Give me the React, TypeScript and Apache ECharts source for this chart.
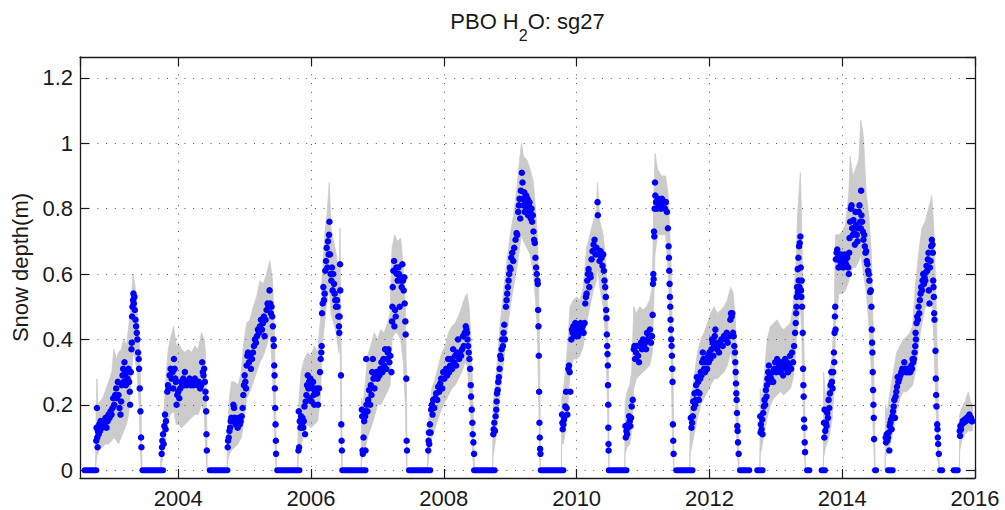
import React, { useEffect, useRef } from 'react';
import * as echarts from 'echarts';

// ---------- Data (decimal year, snow depth in m) ----------
const SEASON_A: number[][] = [[2002.765,0.09],[2002.77,0.13],[2002.775,0.19],[2002.78,0.10],[2002.785,0.07],[2002.79,0.12],[2002.80,0.11],[2002.81,0.14],[2002.82,0.12],[2002.83,0.15],[2002.845,0.14],[2002.86,0.13],[2002.875,0.15],[2002.89,0.14],[2002.905,0.16],[2002.92,0.13],[2002.935,0.15],[2002.95,0.17],[2002.965,0.16],[2002.98,0.18],[2002.995,0.17],[2003.01,0.19],[2003.02,0.22],[2003.035,0.20],[2003.05,0.23],[2003.065,0.25],[2003.075,0.22],[2003.09,0.27],[2003.10,0.23],[2003.115,0.19],[2003.13,0.17],[2003.14,0.21],[2003.15,0.26],[2003.16,0.29],[2003.17,0.31],[2003.18,0.27],[2003.19,0.33],[2003.20,0.29],[2003.21,0.26],[2003.22,0.30],[2003.235,0.28],[2003.25,0.31],[2003.26,0.27],[2003.27,0.24],[2003.275,0.20],[2003.285,0.30],[2003.295,0.37],[2003.30,0.39],[2003.305,0.47],[2003.31,0.50],[2003.32,0.52],[2003.325,0.54],[2003.33,0.51],[2003.34,0.53],[2003.345,0.49],[2003.355,0.46],[2003.365,0.44],[2003.375,0.42],[2003.385,0.40],[2003.395,0.36],[2003.405,0.34],[2003.41,0.31],[2003.42,0.25],[2003.43,0.18],[2003.44,0.10],[2003.445,0.07]];
const SEASON_B: number[][] = [[2003.75,0.05],[2003.755,0.07],[2003.76,0.09],[2003.77,0.11],[2003.78,0.08],[2003.79,0.135],[2003.80,0.17],[2003.81,0.125],[2003.815,0.15],[2003.835,0.24],[2003.845,0.26],[2003.855,0.25],[2003.87,0.29],[2003.885,0.31],[2003.90,0.28],[2003.915,0.30],[2003.925,0.25],[2003.935,0.34],[2003.945,0.31],[2003.955,0.28],[2003.965,0.27],[2003.975,0.20],[2003.985,0.23],[2004.00,0.24],[2004.015,0.22],[2004.03,0.25],[2004.045,0.27],[2004.06,0.26],[2004.075,0.28],[2004.09,0.26],[2004.10,0.30],[2004.115,0.27],[2004.13,0.26],[2004.15,0.27],[2004.17,0.28],[2004.19,0.26],[2004.21,0.27],[2004.23,0.26],[2004.25,0.28],[2004.27,0.27],[2004.29,0.26],[2004.31,0.27],[2004.33,0.25],[2004.345,0.26],[2004.36,0.33],[2004.37,0.30],[2004.38,0.29],[2004.39,0.31],[2004.40,0.27],[2004.41,0.24],[2004.415,0.22],[2004.42,0.18],[2004.425,0.11],[2004.43,0.06]];
const SEASON_C: number[][] = [[2004.745,0.07],[2004.75,0.09],[2004.76,0.10],[2004.77,0.12],[2004.78,0.13],[2004.79,0.15],[2004.80,0.16],[2004.815,0.15],[2004.83,0.20],[2004.84,0.19],[2004.85,0.16],[2004.865,0.14],[2004.88,0.15],[2004.895,0.13],[2004.91,0.16],[2004.925,0.14],[2004.94,0.15],[2004.955,0.165],[2004.97,0.19],[2004.98,0.23],[2004.99,0.26],[2005.00,0.29],[2005.01,0.27],[2005.02,0.25],[2005.03,0.32],[2005.04,0.35],[2005.05,0.36],[2005.065,0.33],[2005.08,0.35],[2005.095,0.31],[2005.11,0.34],[2005.125,0.36],[2005.14,0.38],[2005.155,0.40],[2005.17,0.39],[2005.185,0.41],[2005.20,0.43],[2005.215,0.42],[2005.23,0.44],[2005.245,0.46],[2005.26,0.43],[2005.275,0.45],[2005.29,0.47],[2005.30,0.41],[2005.315,0.46],[2005.33,0.49],[2005.345,0.51],[2005.36,0.50],[2005.375,0.55],[2005.385,0.51],[2005.395,0.48],[2005.405,0.50],[2005.415,0.47],[2005.425,0.44],[2005.435,0.40],[2005.44,0.38],[2005.445,0.32],[2005.45,0.29],[2005.455,0.25],[2005.46,0.19],[2005.465,0.14],[2005.47,0.09],[2005.473,0.05]];
const SEASON_D: number[][] = [[2005.81,0.06],[2005.815,0.18],[2005.82,0.07],[2005.83,0.15],[2005.84,0.13],[2005.85,0.165],[2005.86,0.14],[2005.87,0.16],[2005.88,0.13],[2005.89,0.15],[2005.90,0.195],[2005.91,0.11],[2005.92,0.21],[2005.93,0.23],[2005.94,0.26],[2005.95,0.29],[2005.96,0.25],[2005.97,0.27],[2005.98,0.22],[2005.99,0.28],[2006.00,0.26],[2006.01,0.21],[2006.02,0.25],[2006.03,0.27],[2006.04,0.23],[2006.05,0.20],[2006.06,0.24],[2006.075,0.25],[2006.09,0.235],[2006.105,0.20],[2006.12,0.25],[2006.135,0.30],[2006.145,0.34],[2006.155,0.36],[2006.16,0.38],[2006.165,0.48],[2006.175,0.51],[2006.185,0.56],[2006.195,0.52],[2006.205,0.54],[2006.215,0.61],[2006.225,0.64],[2006.235,0.68],[2006.245,0.62],[2006.255,0.70],[2006.265,0.66],[2006.27,0.72],[2006.277,0.76],[2006.285,0.66],[2006.295,0.60],[2006.305,0.58],[2006.315,0.62],[2006.325,0.55],[2006.335,0.60],[2006.345,0.57],[2006.355,0.54],[2006.365,0.52],[2006.375,0.50],[2006.39,0.52],[2006.40,0.50],[2006.41,0.47],[2006.42,0.44],[2006.425,0.42],[2006.43,0.47],[2006.437,0.63],[2006.44,0.55],[2006.45,0.29],[2006.455,0.14],[2006.46,0.09],[2006.465,0.06]];
const SEASON_E: number[][] = [[2006.765,0.185],[2006.77,0.165],[2006.775,0.06],[2006.78,0.05],[2006.79,0.10],[2006.80,0.15],[2006.81,0.18],[2006.815,0.165],[2006.82,0.06],[2006.83,0.34],[2006.835,0.20],[2006.85,0.18],[2006.86,0.215],[2006.875,0.245],[2006.89,0.20],[2006.90,0.26],[2006.91,0.23],[2006.92,0.30],[2006.93,0.34],[2006.94,0.28],[2006.955,0.25],[2006.97,0.29],[2006.985,0.30],[2007.00,0.28],[2007.015,0.30],[2007.03,0.29],[2007.045,0.31],[2007.06,0.33],[2007.075,0.30],[2007.09,0.34],[2007.10,0.32],[2007.115,0.37],[2007.13,0.31],[2007.14,0.34],[2007.155,0.36],[2007.165,0.37],[2007.18,0.33],[2007.195,0.35],[2007.21,0.30],[2007.22,0.455],[2007.225,0.50],[2007.23,0.56],[2007.24,0.61],[2007.25,0.64],[2007.255,0.44],[2007.265,0.49],[2007.275,0.47],[2007.285,0.62],[2007.295,0.60],[2007.305,0.58],[2007.315,0.62],[2007.325,0.60],[2007.335,0.50],[2007.345,0.59],[2007.355,0.58],[2007.365,0.56],[2007.375,0.63],[2007.385,0.58],[2007.395,0.55],[2007.405,0.59],[2007.41,0.51],[2007.42,0.455],[2007.425,0.415],[2007.435,0.28],[2007.44,0.09],[2007.445,0.06]];
const SEASON_F: number[][] = [[2007.765,0.06],[2007.77,0.09],[2007.775,0.115],[2007.78,0.08],[2007.79,0.14],[2007.80,0.115],[2007.81,0.185],[2007.82,0.20],[2007.83,0.17],[2007.84,0.215],[2007.855,0.19],[2007.87,0.22],[2007.885,0.235],[2007.90,0.215],[2007.915,0.255],[2007.93,0.24],[2007.945,0.265],[2007.96,0.28],[2007.975,0.25],[2007.99,0.30],[2008.005,0.28],[2008.02,0.30],[2008.035,0.31],[2008.05,0.29],[2008.065,0.34],[2008.08,0.30],[2008.095,0.32],[2008.11,0.34],[2008.125,0.31],[2008.14,0.37],[2008.155,0.33],[2008.17,0.35],[2008.185,0.32],[2008.20,0.36],[2008.215,0.40],[2008.23,0.34],[2008.245,0.36],[2008.26,0.35],[2008.275,0.37],[2008.29,0.41],[2008.30,0.38],[2008.315,0.42],[2008.33,0.44],[2008.34,0.43],[2008.35,0.42],[2008.355,0.40],[2008.365,0.38],[2008.375,0.36],[2008.385,0.34],[2008.395,0.31],[2008.405,0.26],[2008.41,0.225],[2008.42,0.185],[2008.43,0.145],[2008.435,0.11],[2008.445,0.085],[2008.455,0.05]];
const SEASON_G: number[][] = [[2008.745,0.11],[2008.75,0.125],[2008.76,0.145],[2008.77,0.12],[2008.78,0.165],[2008.79,0.185],[2008.795,0.21],[2008.80,0.235],[2008.81,0.245],[2008.82,0.27],[2008.83,0.285],[2008.84,0.31],[2008.85,0.35],[2008.86,0.34],[2008.87,0.37],[2008.88,0.40],[2008.89,0.38],[2008.90,0.42],[2008.91,0.445],[2008.92,0.40],[2008.935,0.50],[2008.945,0.52],[2008.955,0.54],[2008.965,0.56],[2008.975,0.58],[2008.985,0.60],[2008.995,0.62],[2009.005,0.615],[2009.015,0.65],[2009.03,0.665],[2009.045,0.64],[2009.06,0.68],[2009.08,0.705],[2009.095,0.725],[2009.105,0.72],[2009.12,0.79],[2009.13,0.81],[2009.14,0.83],[2009.15,0.77],[2009.16,0.855],[2009.175,0.91],[2009.185,0.88],[2009.19,0.83],[2009.20,0.81],[2009.21,0.85],[2009.22,0.79],[2009.23,0.82],[2009.24,0.84],[2009.25,0.80],[2009.26,0.83],[2009.27,0.78],[2009.28,0.81],[2009.29,0.82],[2009.30,0.79],[2009.31,0.77],[2009.32,0.80],[2009.33,0.76],[2009.34,0.78],[2009.35,0.73],[2009.36,0.705],[2009.37,0.695],[2009.38,0.65],[2009.39,0.62],[2009.40,0.60],[2009.41,0.58],[2009.415,0.57],[2009.42,0.49],[2009.425,0.44],[2009.43,0.35],[2009.435,0.24],[2009.44,0.145],[2009.445,0.10],[2009.45,0.065],[2009.455,0.05]];
const SEASON_H: number[][] = [[2009.78,0.17],[2009.785,0.145],[2009.79,0.125],[2009.80,0.14],[2009.81,0.155],[2009.82,0.165],[2009.83,0.195],[2009.84,0.24],[2009.85,0.19],[2009.86,0.17],[2009.875,0.31],[2009.885,0.32],[2009.895,0.30],[2009.905,0.24],[2009.92,0.40],[2009.93,0.43],[2009.94,0.42],[2009.95,0.44],[2009.96,0.41],[2009.97,0.43],[2009.98,0.45],[2009.99,0.42],[2010.00,0.44],[2010.01,0.43],[2010.02,0.41],[2010.03,0.44],[2010.045,0.42],[2010.06,0.45],[2010.075,0.43],[2010.09,0.44],[2010.105,0.42],[2010.12,0.45],[2010.13,0.51],[2010.14,0.53],[2010.15,0.54],[2010.16,0.58],[2010.17,0.60],[2010.18,0.615],[2010.19,0.56],[2010.20,0.60],[2010.21,0.59],[2010.225,0.645],[2010.24,0.67],[2010.255,0.69],[2010.27,0.705],[2010.285,0.66],[2010.30,0.68],[2010.315,0.82],[2010.32,0.78],[2010.33,0.66],[2010.345,0.64],[2010.36,0.67],[2010.375,0.65],[2010.39,0.625],[2010.40,0.66],[2010.41,0.61],[2010.42,0.58],[2010.43,0.56],[2010.44,0.53],[2010.445,0.49],[2010.45,0.465],[2010.455,0.415],[2010.46,0.38],[2010.465,0.355],[2010.47,0.32],[2010.472,0.26],[2010.475,0.20],[2010.477,0.13],[2010.48,0.08],[2010.482,0.06]];
const SEASON_I: number[][] = [[2010.735,0.135],[2010.74,0.10],[2010.75,0.12],[2010.76,0.11],[2010.77,0.13],[2010.78,0.14],[2010.79,0.165],[2010.80,0.15],[2010.81,0.135],[2010.82,0.16],[2010.83,0.195],[2010.845,0.215],[2010.86,0.37],[2010.87,0.38],[2010.88,0.34],[2010.895,0.36],[2010.91,0.38],[2010.925,0.35],[2010.94,0.33],[2010.955,0.38],[2010.97,0.39],[2010.985,0.37],[2011.00,0.40],[2011.015,0.38],[2011.03,0.39],[2011.045,0.37],[2011.06,0.42],[2011.075,0.40],[2011.09,0.41],[2011.105,0.43],[2011.12,0.39],[2011.135,0.41],[2011.145,0.475],[2011.15,0.57],[2011.155,0.60],[2011.16,0.585],[2011.165,0.73],[2011.17,0.715],[2011.175,0.80],[2011.18,0.88],[2011.185,0.84],[2011.195,0.82],[2011.21,0.80],[2011.225,0.83],[2011.24,0.81],[2011.255,0.82],[2011.27,0.80],[2011.285,0.83],[2011.30,0.81],[2011.315,0.82],[2011.33,0.80],[2011.345,0.82],[2011.36,0.79],[2011.375,0.74],[2011.385,0.685],[2011.39,0.65],[2011.395,0.61],[2011.40,0.57],[2011.405,0.53],[2011.41,0.50],[2011.415,0.46],[2011.42,0.43],[2011.425,0.40],[2011.43,0.38],[2011.435,0.35],[2011.44,0.31],[2011.445,0.27],[2011.45,0.14],[2011.455,0.09],[2011.46,0.05]];
const SEASON_J: number[][] = [[2011.72,0.16],[2011.73,0.13],[2011.74,0.145],[2011.75,0.165],[2011.755,0.21],[2011.765,0.19],[2011.775,0.235],[2011.785,0.20],[2011.795,0.215],[2011.80,0.26],[2011.81,0.285],[2011.82,0.24],[2011.83,0.27],[2011.84,0.215],[2011.85,0.235],[2011.86,0.28],[2011.87,0.30],[2011.88,0.29],[2011.89,0.33],[2011.90,0.36],[2011.91,0.34],[2011.92,0.31],[2011.935,0.30],[2011.95,0.33],[2011.965,0.31],[2011.98,0.35],[2011.99,0.33],[2012.00,0.36],[2012.015,0.34],[2012.03,0.37],[2012.04,0.40],[2012.05,0.39],[2012.06,0.35],[2012.07,0.38],[2012.08,0.41],[2012.09,0.43],[2012.10,0.39],[2012.115,0.37],[2012.13,0.38],[2012.145,0.36],[2012.16,0.39],[2012.18,0.40],[2012.20,0.38],[2012.22,0.41],[2012.24,0.40],[2012.26,0.42],[2012.275,0.39],[2012.29,0.41],[2012.30,0.41],[2012.315,0.46],[2012.325,0.48],[2012.335,0.47],[2012.345,0.48],[2012.355,0.42],[2012.365,0.41],[2012.375,0.38],[2012.385,0.36],[2012.39,0.33],[2012.395,0.30],[2012.40,0.265],[2012.405,0.235],[2012.41,0.215],[2012.415,0.175],[2012.42,0.135],[2012.425,0.12],[2012.43,0.085],[2012.44,0.05]];
const SEASON_K: number[][] = [[2012.765,0.165],[2012.77,0.115],[2012.775,0.14],[2012.785,0.125],[2012.795,0.155],[2012.80,0.11],[2012.81,0.175],[2012.82,0.195],[2012.83,0.215],[2012.84,0.20],[2012.85,0.245],[2012.86,0.225],[2012.865,0.26],[2012.875,0.28],[2012.885,0.30],[2012.895,0.32],[2012.905,0.27],[2012.915,0.29],[2012.93,0.28],[2012.945,0.30],[2012.96,0.27],[2012.975,0.31],[2012.99,0.33],[2013.005,0.30],[2013.02,0.34],[2013.035,0.31],[2013.05,0.32],[2013.065,0.30],[2013.08,0.33],[2013.095,0.31],[2013.11,0.29],[2013.125,0.32],[2013.14,0.34],[2013.155,0.31],[2013.17,0.33],[2013.185,0.30],[2013.20,0.32],[2013.215,0.35],[2013.23,0.31],[2013.245,0.36],[2013.26,0.33],[2013.275,0.38],[2013.29,0.42],[2013.30,0.45],[2013.305,0.48],[2013.31,0.50],[2013.315,0.53],[2013.32,0.56],[2013.33,0.615],[2013.335,0.545],[2013.34,0.65],[2013.345,0.58],[2013.35,0.685],[2013.355,0.56],[2013.36,0.695],[2013.37,0.715],[2013.375,0.62],[2013.38,0.55],[2013.385,0.53],[2013.39,0.58],[2013.395,0.50],[2013.405,0.42],[2013.41,0.31],[2013.415,0.26],[2013.42,0.225],[2013.425,0.155],[2013.43,0.13],[2013.435,0.085],[2013.44,0.055]];
const SEASON_L: number[][] = [[2013.725,0.145],[2013.73,0.10],[2013.735,0.185],[2013.745,0.12],[2013.755,0.145],[2013.765,0.135],[2013.775,0.175],[2013.785,0.16],[2013.795,0.215],[2013.805,0.19],[2013.815,0.235],[2013.825,0.26],[2013.835,0.30],[2013.845,0.27],[2013.855,0.25],[2013.865,0.30],[2013.875,0.36],[2013.88,0.33],[2013.885,0.42],[2013.89,0.47],[2013.895,0.50],[2013.90,0.43],[2013.905,0.645],[2013.915,0.665],[2013.925,0.675],[2013.935,0.65],[2013.945,0.62],[2013.955,0.655],[2013.965,0.64],[2013.975,0.66],[2013.985,0.63],[2013.995,0.645],[2014.005,0.65],[2014.015,0.62],[2014.025,0.645],[2014.035,0.66],[2014.045,0.64],[2014.06,0.63],[2014.075,0.65],[2014.09,0.62],[2014.10,0.60],[2014.105,0.665],[2014.11,0.71],[2014.12,0.76],[2014.13,0.80],[2014.14,0.81],[2014.15,0.74],[2014.16,0.72],[2014.17,0.765],[2014.18,0.725],[2014.19,0.69],[2014.20,0.79],[2014.21,0.75],[2014.22,0.72],[2014.23,0.70],[2014.24,0.74],[2014.25,0.79],[2014.26,0.81],[2014.27,0.76],[2014.28,0.74],[2014.285,0.855],[2014.29,0.78],[2014.30,0.76],[2014.31,0.73],[2014.32,0.705],[2014.33,0.72],[2014.34,0.685],[2014.35,0.665],[2014.36,0.67],[2014.37,0.64],[2014.38,0.63],[2014.39,0.61],[2014.40,0.60],[2014.41,0.58],[2014.42,0.545],[2014.43,0.55],[2014.44,0.50],[2014.445,0.43],[2014.45,0.39],[2014.455,0.36],[2014.46,0.30],[2014.465,0.245],[2014.47,0.20],[2014.475,0.16],[2014.48,0.095]];
const SEASON_M: number[][] = [[2014.655,0.10],[2014.66,0.085],[2014.67,0.11],[2014.68,0.09],[2014.69,0.10],[2014.70,0.115],[2014.71,0.06],[2014.715,0.135],[2014.725,0.145],[2014.735,0.155],[2014.745,0.125],[2014.755,0.165],[2014.765,0.18],[2014.775,0.195],[2014.785,0.215],[2014.795,0.16],[2014.805,0.225],[2014.815,0.24],[2014.825,0.255],[2014.835,0.285],[2014.845,0.27],[2014.86,0.28],[2014.875,0.29],[2014.89,0.30],[2014.905,0.31],[2014.92,0.30],[2014.935,0.33],[2014.95,0.31],[2014.965,0.30],[2014.98,0.31],[2014.995,0.30],[2015.01,0.31],[2015.025,0.30],[2015.04,0.32],[2015.05,0.31],[2015.06,0.34],[2015.07,0.33],[2015.08,0.34],[2015.09,0.36],[2015.10,0.38],[2015.105,0.42],[2015.11,0.40],[2015.12,0.45],[2015.13,0.47],[2015.14,0.46],[2015.15,0.50],[2015.16,0.48],[2015.17,0.52],[2015.18,0.54],[2015.19,0.56],[2015.20,0.55],[2015.21,0.58],[2015.22,0.60],[2015.23,0.57],[2015.24,0.59],[2015.25,0.58],[2015.26,0.605],[2015.27,0.625],[2015.28,0.61],[2015.29,0.645],[2015.30,0.665],[2015.305,0.55],[2015.315,0.51],[2015.32,0.62],[2015.33,0.64],[2015.34,0.685],[2015.35,0.705],[2015.36,0.69],[2015.365,0.665],[2015.37,0.58],[2015.375,0.56],[2015.38,0.53],[2015.385,0.48],[2015.39,0.46],[2015.405,0.365],[2015.41,0.28],[2015.415,0.23],[2015.42,0.195],[2015.43,0.14],[2015.435,0.125],[2015.44,0.10],[2015.445,0.08],[2015.455,0.05]];
const SEASON_N: number[][] = [[2015.77,0.12],[2015.775,0.105],[2015.78,0.135],[2015.79,0.125],[2015.80,0.14],[2015.815,0.15],[2015.83,0.145],[2015.845,0.155],[2015.86,0.15],[2015.875,0.16],[2015.89,0.155],[2015.905,0.165],[2015.915,0.17],[2015.925,0.155],[2015.94,0.16],[2015.95,0.15],[2015.96,0.15]];

// grey uncertainty envelope per season: [year, low, high]
const BAND_A: number[][] = [[2002.755,0,0.02],[2002.765,0.03,0.2],[2002.775,0.05,0.28],[2002.79,0.05,0.2],[2002.82,0.07,0.21],[2002.86,0.07,0.22],[2002.9,0.08,0.24],[2002.95,0.08,0.27],[2003.0,0.09,0.3],[2003.03,0.1,0.37],[2003.07,0.09,0.34],[2003.1,0.08,0.36],[2003.14,0.1,0.37],[2003.18,0.12,0.4],[2003.22,0.14,0.38],[2003.26,0.18,0.45],[2003.29,0.28,0.52],[2003.32,0.36,0.6],[2003.35,0.34,0.56],[2003.38,0.3,0.5],[2003.41,0.2,0.42],[2003.43,0.06,0.3],[2003.445,0,0.1],[2003.455,0,0.02]];
const BAND_B: number[][] = [[2003.735,0,0.02],[2003.745,0.02,0.08],[2003.76,0.03,0.12],[2003.79,0.07,0.2],[2003.82,0.12,0.3],[2003.85,0.15,0.37],[2003.88,0.17,0.4],[2003.93,0.18,0.44],[2003.97,0.14,0.38],[2004.0,0.14,0.39],[2004.05,0.13,0.37],[2004.1,0.14,0.36],[2004.15,0.15,0.37],[2004.2,0.16,0.36],[2004.25,0.17,0.38],[2004.3,0.17,0.37],[2004.35,0.2,0.42],[2004.39,0.18,0.4],[2004.41,0.08,0.36],[2004.425,0.02,0.2],[2004.435,0,0.05]];
const BAND_C: number[][] = [[2004.735,0,0.03],[2004.745,0.03,0.12],[2004.77,0.05,0.22],[2004.8,0.06,0.27],[2004.85,0.07,0.27],[2004.9,0.08,0.26],[2004.95,0.1,0.3],[2004.98,0.14,0.38],[2005.03,0.22,0.45],[2005.08,0.24,0.46],[2005.13,0.27,0.5],[2005.18,0.3,0.53],[2005.23,0.33,0.58],[2005.28,0.35,0.57],[2005.33,0.38,0.6],[2005.38,0.42,0.64],[2005.42,0.3,0.58],[2005.445,0.15,0.45],[2005.46,0.05,0.3],[2005.475,0,0.08],[2005.48,0,0.02]];
const BAND_D: number[][] = [[2005.80,0,0.02],[2005.805,0.03,0.14],[2005.82,0.06,0.22],[2005.85,0.08,0.3],[2005.9,0.11,0.34],[2005.95,0.14,0.36],[2006.0,0.13,0.35],[2006.05,0.14,0.38],[2006.1,0.15,0.36],[2006.14,0.22,0.46],[2006.17,0.38,0.6],[2006.21,0.46,0.73],[2006.24,0.52,0.78],[2006.275,0.56,0.88],[2006.3,0.48,0.74],[2006.34,0.45,0.7],[2006.38,0.42,0.66],[2006.42,0.36,0.6],[2006.437,0.4,0.74],[2006.45,0.1,0.45],[2006.465,0,0.12],[2006.47,0,0.02]];
const BAND_E: number[][] = [[2006.755,0,0.02],[2006.76,0.03,0.22],[2006.78,0.04,0.2],[2006.81,0.06,0.25],[2006.85,0.1,0.35],[2006.9,0.13,0.38],[2006.95,0.16,0.42],[2007.0,0.2,0.4],[2007.05,0.2,0.43],[2007.1,0.22,0.42],[2007.15,0.24,0.45],[2007.19,0.26,0.48],[2007.22,0.4,0.68],[2007.26,0.42,0.72],[2007.3,0.42,0.7],[2007.35,0.4,0.71],[2007.39,0.33,0.62],[2007.42,0.2,0.5],[2007.435,0.03,0.3],[2007.445,0,0.05]];
const BAND_F: number[][] = [[2007.755,0,0.02],[2007.76,0.02,0.12],[2007.78,0.05,0.17],[2007.82,0.1,0.25],[2007.87,0.13,0.28],[2007.92,0.16,0.32],[2007.97,0.19,0.36],[2008.02,0.21,0.38],[2008.07,0.23,0.42],[2008.12,0.25,0.44],[2008.17,0.26,0.45],[2008.22,0.28,0.47],[2008.27,0.3,0.5],[2008.32,0.33,0.53],[2008.35,0.32,0.54],[2008.38,0.25,0.5],[2008.41,0.15,0.4],[2008.44,0.03,0.2],[2008.455,0,0.05],[2008.46,0,0.02]];
const BAND_G: number[][] = [[2008.735,0,0.02],[2008.74,0.04,0.2],[2008.77,0.08,0.25],[2008.8,0.14,0.32],[2008.85,0.24,0.45],[2008.9,0.33,0.55],[2008.95,0.42,0.64],[2009.0,0.5,0.72],[2009.05,0.56,0.78],[2009.1,0.62,0.86],[2009.14,0.68,0.95],[2009.17,0.72,1.0],[2009.2,0.7,0.96],[2009.25,0.68,0.95],[2009.3,0.66,0.92],[2009.35,0.6,0.88],[2009.38,0.52,0.8],[2009.41,0.42,0.72],[2009.43,0.2,0.55],[2009.445,0.03,0.3],[2009.455,0,0.05]];
const BAND_H: number[][] = [[2009.77,0,0.02],[2009.775,0.08,0.22],[2009.8,0.08,0.24],[2009.83,0.12,0.3],[2009.87,0.2,0.4],[2009.9,0.3,0.5],[2009.95,0.34,0.52],[2010.0,0.34,0.53],[2010.05,0.35,0.52],[2010.1,0.38,0.56],[2010.15,0.45,0.68],[2010.2,0.5,0.72],[2010.25,0.55,0.76],[2010.3,0.58,0.8],[2010.315,0.62,0.88],[2010.35,0.56,0.76],[2010.4,0.5,0.72],[2010.44,0.4,0.64],[2010.465,0.2,0.5],[2010.48,0.02,0.3],[2010.49,0,0.05]];
const BAND_I: number[][] = [[2010.725,0,0.02],[2010.73,0.05,0.2],[2010.76,0.07,0.24],[2010.8,0.08,0.26],[2010.83,0.12,0.3],[2010.86,0.25,0.5],[2010.9,0.28,0.48],[2010.95,0.29,0.5],[2011.0,0.3,0.49],[2011.05,0.31,0.5],[2011.1,0.32,0.52],[2011.14,0.36,0.56],[2011.16,0.5,0.8],[2011.18,0.66,0.97],[2011.22,0.72,0.92],[2011.28,0.72,0.9],[2011.34,0.72,0.9],[2011.38,0.6,0.84],[2011.42,0.35,0.65],[2011.45,0.05,0.35],[2011.465,0,0.05]];
const BAND_J: number[][] = [[2011.705,0,0.02],[2011.71,0.05,0.22],[2011.74,0.08,0.24],[2011.78,0.12,0.3],[2011.82,0.16,0.36],[2011.87,0.2,0.4],[2011.92,0.22,0.42],[2011.97,0.24,0.45],[2012.02,0.26,0.48],[2012.07,0.28,0.5],[2012.12,0.28,0.48],[2012.17,0.29,0.49],[2012.22,0.3,0.5],[2012.27,0.32,0.52],[2012.32,0.36,0.56],[2012.36,0.32,0.54],[2012.39,0.2,0.46],[2012.42,0.06,0.3],[2012.44,0,0.1],[2012.445,0,0.02]];
const BAND_K: number[][] = [[2012.76,0,0.02],[2012.765,0.05,0.25],[2012.79,0.07,0.22],[2012.83,0.12,0.3],[2012.87,0.16,0.4],[2012.92,0.2,0.44],[2012.97,0.22,0.45],[2013.02,0.23,0.46],[2013.07,0.24,0.44],[2013.12,0.23,0.43],[2013.17,0.24,0.44],[2013.22,0.25,0.45],[2013.26,0.28,0.5],[2013.3,0.36,0.62],[2013.33,0.45,0.79],[2013.37,0.5,0.91],[2013.39,0.42,0.75],[2013.41,0.22,0.55],[2013.43,0.05,0.3],[2013.445,0,0.05]];
const BAND_L: number[][] = [[2013.715,0,0.02],[2013.72,0.04,0.3],[2013.75,0.07,0.22],[2013.8,0.1,0.28],[2013.85,0.16,0.35],[2013.88,0.25,0.5],[2013.9,0.45,0.72],[2013.95,0.54,0.72],[2014.0,0.54,0.73],[2014.05,0.55,0.75],[2014.1,0.58,0.85],[2014.12,0.6,0.96],[2014.16,0.62,0.9],[2014.2,0.62,0.92],[2014.25,0.64,0.95],[2014.28,0.66,1.07],[2014.32,0.6,1.02],[2014.36,0.55,0.85],[2014.4,0.45,0.78],[2014.44,0.3,0.66],[2014.47,0.1,0.4],[2014.49,0,0.12],[2014.495,0,0.02]];
const BAND_M: number[][] = [[2014.645,0,0.02],[2014.65,0.04,0.2],[2014.68,0.05,0.18],[2014.72,0.08,0.24],[2014.77,0.12,0.3],[2014.82,0.18,0.36],[2014.87,0.22,0.38],[2014.92,0.24,0.4],[2014.97,0.24,0.41],[2015.02,0.25,0.42],[2015.06,0.26,0.44],[2015.1,0.3,0.56],[2015.15,0.38,0.66],[2015.2,0.45,0.74],[2015.25,0.5,0.76],[2015.3,0.5,0.8],[2015.35,0.52,0.84],[2015.38,0.4,0.74],[2015.41,0.2,0.55],[2015.44,0.04,0.3],[2015.455,0,0.06],[2015.46,0,0.02]];
const BAND_N: number[][] = [[2015.765,0,0.02],[2015.77,0.06,0.17],[2015.8,0.09,0.19],[2015.85,0.11,0.21],[2015.9,0.12,0.24],[2015.93,0.12,0.21],[2015.96,0.12,0.2],[2015.965,0.13,0.19]];

// periods with zero snow depth: [start, end]
const ZERO_RUNS: number[][] = [[2002.59,2002.765],[2003.46,2003.77],[2004.475,2004.74],[2005.49,2005.825],[2006.47,2006.82],[2007.475,2007.795],[2008.455,2008.765],[2009.46,2009.8],[2010.485,2010.75],[2011.5,2011.745],[2012.46,2012.6],[2012.72,2012.8],[2013.47,2013.505],[2013.69,2013.74],[2014.495,2014.51],[2014.69,2014.76],[2015.475,2015.505],[2015.68,2015.74]];

const X_MIN = 2002.52;
const X_MAX = 2016;
const Y_MIN = -0.024;
const Y_MAX = 1.264;
const TITLE = '{a|PBO H}{s|2}{a|O: sg27}';
const Y_NAME = 'Snow depth(m)';

const DOTS = [SEASON_A, SEASON_B, SEASON_C, SEASON_D, SEASON_E, SEASON_F, SEASON_G, SEASON_H, SEASON_I, SEASON_J, SEASON_K, SEASON_L, SEASON_M, SEASON_N].flat();
const BANDS = [BAND_A, BAND_B, BAND_C, BAND_D, BAND_E, BAND_F, BAND_G, BAND_H, BAND_I, BAND_J, BAND_K, BAND_L, BAND_M, BAND_N];

const FONT = "'Liberation Sans', Arial, Helvetica, sans-serif";
const INK = '#1a1a1a';

export default function App() {
  const ref = useRef<HTMLDivElement>(null);
  useEffect(() => {
    if (!ref.current) return;
    const chart = echarts.init(ref.current, null, { renderer: 'svg' });
    const lineStyle = { color: INK, width: 1.3 };
    const tick = { show: true, inside: true, length: 9, lineStyle: { color: INK, width: 1.2 } };
    const xBase = { type: 'value', min: X_MIN, max: X_MAX, minInterval: 2, maxInterval: 2, z: 3 };
    const yBase = { type: 'value', min: Y_MIN, max: Y_MAX, minInterval: 0.2, maxInterval: 0.2, z: 3 };
    const grid = { type: [1, 7.7], color: '#555', width: 1 };
    chart.setOption({
      animation: false,
      backgroundColor: '#ffffff',
      grid: { left: 80, right: 30, top: 57, bottom: 32, containLabel: false, outerBoundsMode: 'none' },
      xAxis: [
        {
          ...xBase, position: 'bottom',
          axisLine: { show: true, onZero: false, lineStyle },
          axisTick: tick,
          axisLabel: { show: true, margin: 9, fontSize: 22, color: INK, fontFamily: FONT, showMinLabel: false, showMaxLabel: true, formatter: (v: number) => String(Math.round(v)) },
          splitLine: { show: true, showMinLine: false, showMaxLine: false, lineStyle: grid },
        },
        {
          ...xBase, position: 'top',
          axisLine: { show: true, onZero: false, lineStyle },
          axisTick: tick, axisLabel: { show: false }, splitLine: { show: false },
        },
      ],
      yAxis: [
        {
          ...yBase, position: 'left',
          name: Y_NAME, nameLocation: 'middle', nameGap: 48, nameRotate: 90,
          nameTextStyle: { fontSize: 22, color: INK, fontFamily: FONT },
          axisLine: { show: true, onZero: false, lineStyle },
          axisTick: tick,
          axisLabel: { show: true, margin: 7, fontSize: 22, color: INK, fontFamily: FONT, showMinLabel: false, showMaxLabel: false, formatter: (v: number) => String(+v.toFixed(1)) },
          splitLine: { show: true, showMinLine: false, showMaxLine: false, lineStyle: grid },
        },
        {
          ...yBase, position: 'right',
          axisLine: { show: true, onZero: false, lineStyle },
          axisTick: tick, axisLabel: { show: false }, splitLine: { show: false },
        },
      ],
      series: [
        {
          type: 'custom', name: 'band', xAxisIndex: 0, yAxisIndex: 0, z: 2, silent: true,
          data: BANDS.map((b, i) => [b[0][0], 0, i]),
          encode: { x: 0, y: 1 },
          renderItem: (params: any, api: any) => {
            const band = BANDS[params.dataIndex];
            const up = band.map((p) => api.coord([p[0], p[2]]));
            const lo = band.slice().reverse().map((p) => api.coord([p[0], p[1]]));
            return { type: 'polygon', shape: { points: up.concat(lo) }, style: { fill: '#cbcbcb', stroke: '#cbcbcb', lineWidth: 0.8 } };
          },
        },
        {
          type: 'custom', name: 'zero', xAxisIndex: 0, yAxisIndex: 0, z: 5, silent: true,
          data: ZERO_RUNS.map((r) => [r[0], r[1], 0]),
          encode: { x: [0, 1], y: 2 },
          renderItem: (params: any, api: any) => {
            const a = api.coord([api.value(0), 0]);
            const b = api.coord([api.value(1), 0]);
            return { type: 'line', shape: { x1: a[0], y1: a[1], x2: b[0], y2: b[1] }, style: { stroke: '#0000ff', lineWidth: 6, lineCap: 'round' } };
          },
        },
        {
          type: 'scatter', name: 'depth', xAxisIndex: 0, yAxisIndex: 0, z: 6, silent: true,
          data: DOTS, symbol: 'circle', symbolSize: 6.5,
          itemStyle: { color: '#0000ff', opacity: 1, borderWidth: 0 },
        },
      ],
      graphic: [
        {
          type: 'text', x: 527.5, y: 10, z: 10,
          style: {
            text: TITLE, align: 'center', verticalAlign: 'top', fill: INK,
            rich: {
              a: { fontSize: 22, fontFamily: FONT, fill: INK, lineHeight: 26, verticalAlign: 'top' },
              s: { fontSize: 16, fontFamily: FONT, fill: INK, lineHeight: 16, padding: [17, 0, 0, 0], verticalAlign: 'top' },
            },
          },
        },
      ],
    });
    return () => chart.dispose();
  }, []);
  return <div ref={ref} style={{ position: 'absolute', left: 0, top: 0, width: 1005, height: 510 }} />;
}
